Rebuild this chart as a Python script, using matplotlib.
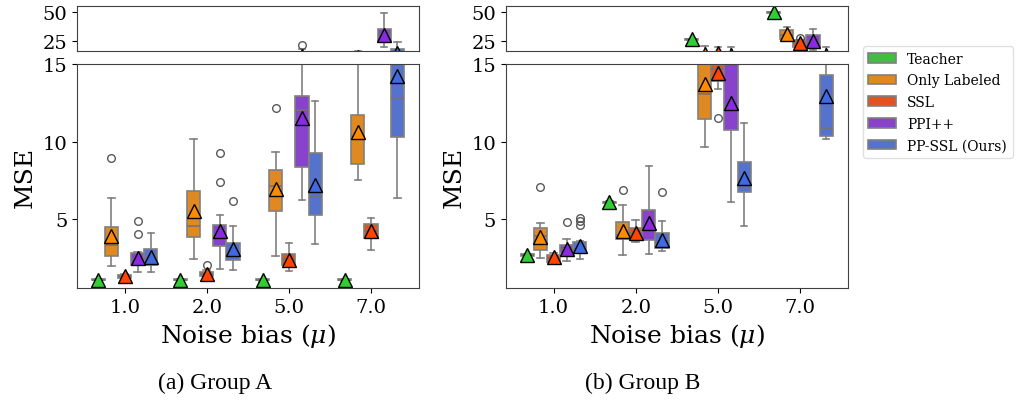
import matplotlib
matplotlib.use('Agg')
import matplotlib.pyplot as plt
from matplotlib.patches import Patch
import seaborn as sns

plt.rcParams['font.family'] = ['DejaVu Serif']
plt.rcParams['mathtext.fontset'] = 'dejavuserif'

noise = ['1.0', '2.0', '5.0', '7.0']
methods = ['Teacher', 'Only Labeled', 'SSL', 'PPI++', 'PP-SSL (Ours)']
colors = ['limegreen', 'darkorange', 'orangered', 'blueviolet', 'royalblue']

# Group A  (rows = methods, cols = noise bias)
a_q1 = [[1.05, 1.05, 1.05, 1.05],
        [2.63, 3.86, 5.54, 8.55],
        [1.22, 1.35, 2.03, 3.77],
        [2.03, 3.28, 8.38, 24.5],
        [2.03, 2.33, 5.28, 10.27]]
a_med = [[1.08, 1.08, 1.08, 1.08],
         [3.32, 4.57, 7.11, 10.33],
         [1.30, 1.45, 2.40, 4.20],
         [2.45, 3.86, 12.03, 30.5],
         [2.50, 2.74, 6.44, 12.83]]
a_q3 = [[1.11, 1.11, 1.11, 1.11],
        [4.46, 6.83, 8.16, 11.71],
        [1.40, 1.60, 2.72, 4.68],
        [2.81, 4.63, 12.94, 35.3],
        [3.06, 3.47, 9.24, 17.4]]
a_lo = [[1.02, 1.02, 1.02, 1.02],
        [1.99, 2.42, 2.63, 7.54],
        [1.15, 1.30, 1.65, 3.02],
        [1.56, 1.77, 6.20, 19.7],
        [1.56, 1.71, 3.37, 6.33]]
a_hi = [[1.14, 1.14, 1.14, 1.14],
        [6.33, 10.2, 9.32, 16.0],
        [1.45, 1.70, 3.45, 5.06],
        [2.90, 5.26, 17.4, 48.6],
        [4.08, 4.57, 12.61, 24.1]]
a_mean = [[1.08, 1.08, 1.08, 1.08],
          [3.88, 5.50, 6.94, 10.63],
          [1.30, 1.47, 2.35, 4.20],
          [2.48, 4.23, 11.52, 30.0],
          [2.53, 3.06, 7.19, 14.25]]
a_fliers = [[[], [], [], []],
            [[8.94], [], [12.2], []],
            [[], [2.05], [], []],
            [[4.03, 4.89], [7.37, 9.28], [21.2], []],
            [[], [6.18], [], []]]

# Group B
b_q1 = [[2.64, 6.04, 25.8, 49.2],
        [2.98, 3.69, 11.49, 26.2],
        [2.25, 3.77, 13.9, 19.5],
        [2.79, 3.65, 10.74, 19.7],
        [2.81, 3.13, 6.76, 10.37]]
b_med = [[2.68, 6.08, 26.2, 49.6],
         [3.90, 4.00, 13.1, 29.5],
         [2.50, 4.10, 14.7, 23.0],
         [3.05, 4.40, 12.06, 24.0],
         [3.10, 3.50, 7.15, 10.85]]
b_q3 = [[2.72, 6.12, 26.6, 50.0],
        [4.44, 4.81, 15.5, 34.5],
        [2.70, 4.40, 14.95, 25.4],
        [3.34, 5.60, 15.5, 30.0],
        [3.49, 4.08, 8.68, 14.31]]
b_lo = [[2.62, 6.02, 25.6, 49.0],
        [2.46, 2.68, 9.65, 25.5],
        [2.20, 3.49, 13.39, 19.2],
        [2.27, 2.72, 6.08, 16.8],
        [2.44, 2.92, 4.53, 10.2]]
b_hi = [[2.74, 6.14, 26.8, 50.2],
        [4.76, 5.92, 20.6, 36.5],
        [2.80, 4.95, 19.5, 25.6],
        [3.71, 8.42, 19.8, 35.3],
        [3.60, 4.87, 11.17, 19.4]]
b_mean = [[2.68, 6.08, 26.2, 49.6],
          [3.86, 4.20, 13.7, 30.6],
          [2.53, 4.08, 14.42, 23.2],
          [3.10, 4.74, 12.48, 24.7],
          [3.26, 3.67, 7.65, 12.96]]
b_fliers = [[[], [], [], []],
            [[7.09], [6.89], [], []],
            [[], [], [11.54], [27.6]],
            [[4.83], [], [], []],
            [[4.61, 4.87, 5.04], [6.72], [], []]]

groups = [(a_q1, a_med, a_q3, a_lo, a_hi, a_mean, a_fliers),
          (b_q1, b_med, b_q3, b_lo, b_hi, b_mean, b_fliers)]
captions = ['(a) Group A', '(b) Group B']

offsets = [-0.32, -0.16, 0.0, 0.16, 0.32]
box_colors = [sns.desaturate(c, 0.75) for c in colors]
line_c = '0.5'


def draw(ax, data):
    q1, med, q3, lo, hi, mean, fl = data
    for m in range(len(methods)):
        st = []
        for g in range(len(noise)):
            st.append(dict(q1=q1[m][g], med=med[m][g], q3=q3[m][g],
                           whislo=lo[m][g], whishi=hi[m][g],
                           mean=mean[m][g], fliers=fl[m][g]))
        pos = [g + offsets[m] for g in range(len(noise))]
        ax.bxp(st, positions=pos, widths=0.16, showmeans=True,
               patch_artist=True, manage_ticks=False,
               boxprops=dict(facecolor=box_colors[m], edgecolor=line_c, linewidth=1.2),
               whiskerprops=dict(color=line_c, linewidth=1.2),
               capprops=dict(color=line_c, linewidth=1.2),
               medianprops=dict(color='0.45', linewidth=1.2),
               meanprops=dict(marker='^', markerfacecolor=colors[m],
                              markeredgecolor='black', markersize=10.5,
                              markeredgewidth=1.0),
               flierprops=dict(marker='o', markerfacecolor='none',
                               markeredgecolor='0.35', markersize=5.5))


fig = plt.figure(figsize=(10.16, 4.02), dpi=100)
lefts = [0.0758, 0.498]
for i in range(2):
    ax_top = fig.add_axes([lefts[i], 0.8706, 0.3362, 0.112])
    ax_bot = fig.add_axes([lefts[i], 0.281, 0.3362, 0.557])
    for ax in (ax_top, ax_bot):
        draw(ax, groups[i])
        ax.set_xlim(-0.58, 3.58)
        for s in ax.spines.values():
            s.set_color('0.25')
        ax.tick_params(labelsize=14)
    ax_top.set_ylim(16, 55)
    ax_top.set_yticks([25, 50])
    ax_top.set_xticks([])
    ax_bot.set_ylim(0.55, 15)
    ax_bot.set_yticks([5, 10, 15])
    ax_bot.set_xticks(range(len(noise)))
    ax_bot.set_xticklabels(noise)
    ax_bot.set_ylabel('MSE', fontsize=18)
    ax_bot.set_xlabel(r'Noise bias ($\mu$)', fontsize=18)
    fig.text([0.2116, 0.633][i], 0.047, captions[i], ha='center', va='center',
             fontsize=17, family='Liberation Serif')

handles = [Patch(facecolor=box_colors[m], edgecolor=line_c, linewidth=1.2)
           for m in range(len(methods))]
fig.legend(handles, methods, loc='upper left', bbox_to_anchor=(0.8425, 0.9),
           fontsize=10, frameon=True, edgecolor='0.85', fancybox=True,
           labelspacing=0.55)

fig.savefig('out.png', dpi=100)
